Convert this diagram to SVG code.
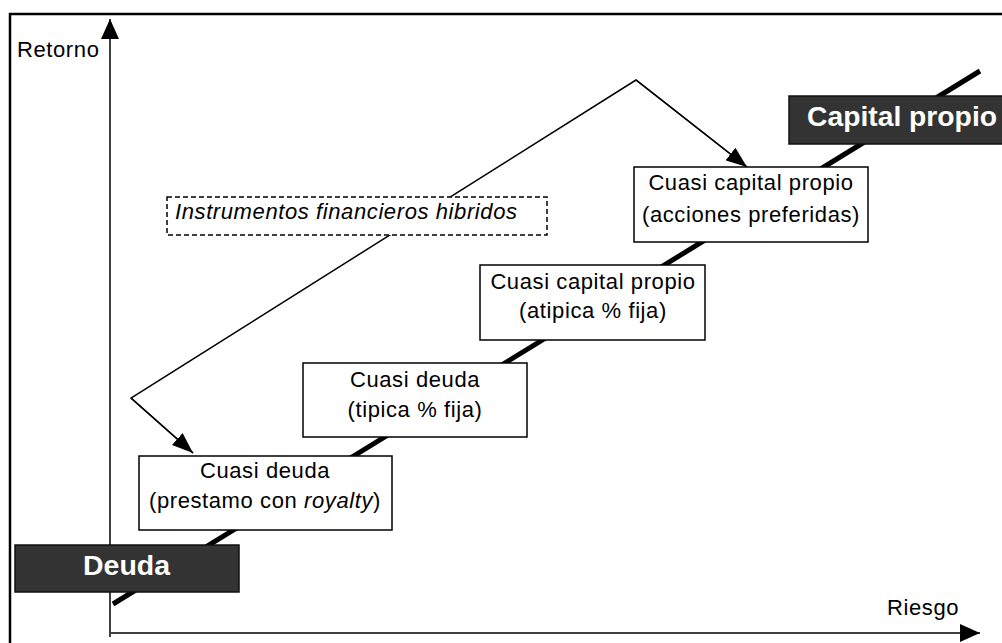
<svg xmlns="http://www.w3.org/2000/svg" width="1002" height="643" viewBox="0 0 1002 643">
<style>
.t{font-family:"Liberation Sans",Arial,sans-serif;font-size:22px;letter-spacing:0.6px;fill:#000}
.b{font-family:"Liberation Sans",Arial,sans-serif;font-size:27px;font-weight:bold;fill:#fff}
.box{fill:#fff;stroke:#000;stroke-width:1.5}
.dark{fill:#333;stroke:#111;stroke-width:1.5}
</style>
<defs>
<marker id="ah" markerWidth="20" markerHeight="18" refX="20" refY="9" orient="auto" markerUnits="userSpaceOnUse"><path d="M0,0 L20,9 L0,18 z" fill="#000"/></marker>
<marker id="ah2" markerWidth="21" markerHeight="16" refX="21" refY="8" orient="auto" markerUnits="userSpaceOnUse"><path d="M0,0 L21,8 L0,16 z" fill="#000"/></marker>
</defs>
<rect x="0" y="0" width="1002" height="643" fill="#fff"/>
<rect x="10" y="14" width="1000" height="640" fill="none" stroke="#000" stroke-width="2.5"/>
<g id="connectors">
<line x1="113" y1="604" x2="980" y2="71" stroke="#000" stroke-width="5"/>
<line x1="110" y1="637" x2="110" y2="19" stroke="#000" stroke-width="1.5" marker-end="url(#ah)"/>
<line x1="111" y1="633" x2="980" y2="633" stroke="#000" stroke-width="1.5" marker-end="url(#ah)"/>
<polyline points="193,453 131,398 636,80 747,167" fill="none" stroke="#000" stroke-width="1.5"/>
<line x1="131" y1="398" x2="193" y2="453" stroke="#000" stroke-width="1.5" marker-end="url(#ah2)"/>
<line x1="636" y1="80" x2="747" y2="167" stroke="#000" stroke-width="1.5" marker-end="url(#ah2)"/>
</g>
<g id="axis-labels">
<text class="t" x="17" y="57">Retorno</text>
<text class="t" x="887" y="615">Riesgo</text>
</g>
<g id="hibridos">
<rect x="167" y="197" width="380" height="38" fill="#fff" stroke="#000" stroke-width="1.5" stroke-dasharray="5,3"/>
<text class="t" x="175" y="219" font-style="italic" style="font-style:italic">Instrumentos financieros hibridos</text>
</g>
<g id="deuda">
<rect class="dark" x="15" y="545" width="224" height="47"/>
<text class="b" x="83" y="575" textLength="87" lengthAdjust="spacingAndGlyphs">Deuda</text>
</g>
<g id="capital-propio">
<rect class="dark" x="789" y="96" width="220" height="48"/>
<text class="b" x="807" y="126" textLength="190" lengthAdjust="spacingAndGlyphs">Capital propio</text>
</g>
<g id="cuasi-deuda-royalty">
<rect class="box" x="139" y="456" width="253" height="74"/>
<text class="t" x="265" y="478" text-anchor="middle">Cuasi deuda</text>
<text class="t" x="265" y="508" text-anchor="middle">(prestamo con <tspan font-style="italic">royalty</tspan>)</text>
</g>
<g id="cuasi-deuda-tipica">
<rect class="box" x="303" y="363" width="224" height="74"/>
<text class="t" x="415" y="387" text-anchor="middle">Cuasi deuda</text>
<text class="t" x="415" y="417" text-anchor="middle">(tipica % fija)</text>
</g>
<g id="cuasi-capital-atipica">
<rect class="box" x="480" y="265" width="225" height="75"/>
<text class="t" x="593" y="289" text-anchor="middle">Cuasi capital propio</text>
<text class="t" x="593" y="318" text-anchor="middle">(atipica % fija)</text>
</g>
<g id="cuasi-capital-acciones">
<rect class="box" x="634" y="167" width="234" height="75"/>
<text class="t" x="751" y="190" text-anchor="middle">Cuasi capital propio</text>
<text class="t" x="751" y="222" text-anchor="middle">(acciones preferidas)</text>
</g>
</svg>
